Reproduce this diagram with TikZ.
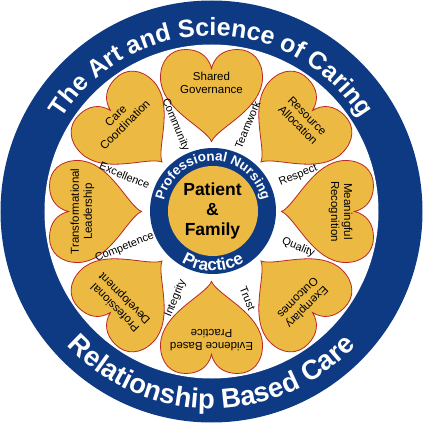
\documentclass[tikz,border=0pt]{standalone}
\usepackage{fontspec}
\setmainfont{Liberation Sans}
\usetikzlibrary{decorations.text}
\definecolor{ringblue}{RGB}{14,58,132}
\definecolor{heartgold}{RGB}{236,186,66}
\definecolor{heartline}{RGB}{185,40,35}
\begin{document}
\begin{tikzpicture}[x=1pt,y=1pt,
    heart/.style={fill=heartgold,draw=heartline,line width=0.8pt},
    lbl/.style={font=\fontsize{11.5}{13}\selectfont,align=center,inner sep=0pt},
    val/.style={font=\fontsize{11}{12}\selectfont,inner sep=0pt}]
\useasboundingbox (-211.5,-211.5) rectangle (211.5,211.5);
\fill[ringblue] (0,0) circle (211);
\fill[white] (0,0) circle (167);
\foreach \a/\t [count=\i] in {90/{Shared\\Governance},45/{Resource\\Allocation},0/{Meaningful\\Recognition},-45/{Exemplary\\Outcomes},-90/{Evidence Based\\Practice},-135/{Professional\\Development},180/{Transformational\\Leadership},135/{Care\\Coordination}}{
    \begin{scope}[rotate=\a-90]
    \draw[heart] (0,70) .. controls (-6,84) and (-51,102) .. (-51,134)
        .. controls (-51,151) and (-41,162) .. (-26,162)
        .. controls (-12,162) and (-3,155) .. (0,143)
        .. controls (3,155) and (12,162) .. (26,162)
        .. controls (41,162) and (51,151) .. (51,134)
        .. controls (51,102) and (6,84) .. (0,70) -- cycle;
    \end{scope}
    \node[lbl,rotate=\a-90] (h\i) at (\a:129) {\t};
}
\foreach \a/\r/\t [count=\i] in {112.5/-67.5/Community,67.5/67.5/Teamwork,22.5/22.5/Respect,-22.5/-22.5/Quality,-67.5/-67.5/Trust,-112.5/67.5/Integrity,-157.5/22.5/Competence,157.5/-22.5/Excellence}
    \node[val,rotate=\r] (v\i) at (\a:94) {\t};
\fill[ringblue] (1.5,0.5) circle (63);
\fill[heartgold] (1.5,0.5) circle (45);
\node[font=\bfseries\fontsize{17.5}{20}\selectfont,align=center] (pf) at (1,1) {Patient\\\&\\Family};
\path[decorate,decoration={text along path,text align=center,text color=white,
    text={|\bfseries\fontsize{13.5}{13.5}\selectfont|Professional Nursing}}]
    (-48.5,0.5) arc (180:0:50);
\path[decorate,decoration={text along path,text align=center,text color=white,
    text={|\bfseries\fontsize{17}{17}\selectfont|Practice}}]
    (-58.5,0.5) arc (180:360:60);
\path[decorate,decoration={text along path,text align=center,text color=white,
    text={|\bfseries\fontsize{25}{25}\selectfont|The Art and Science of Caring}}]
    (-176,0) arc (180:0:176);
\path[decorate,decoration={text along path,text align=center,text color=white,
    text={|\bfseries\fontsize{27.5}{27.5}\selectfont|Relationship Based Care}}]
    (-197,0) arc (180:360:197);
\end{tikzpicture}
\end{document}
